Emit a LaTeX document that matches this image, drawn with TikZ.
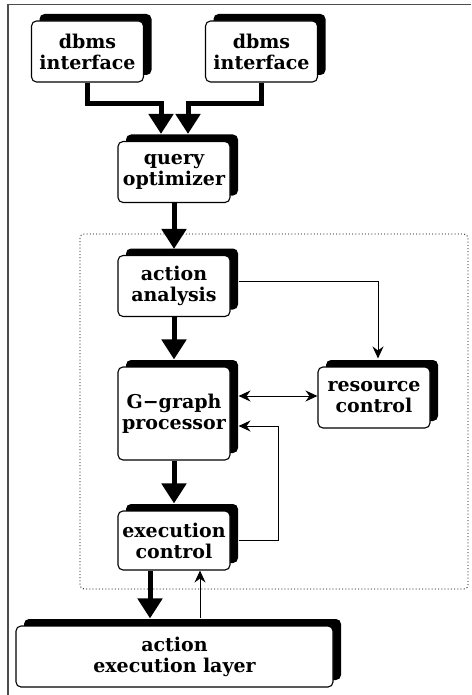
\documentclass[tikz,border=0pt]{standalone}
\usepackage{fontspec}
\setmainfont{DejaVu Serif}
\usepackage{tikz}
\usetikzlibrary{arrows.meta,shadows,calc}

\tikzset{
    module/.style={draw, rectangle, rounded corners=5pt, fill=white, line width=1.1pt,
        text width=106pt, minimum height=61pt, inner sep=3pt, align=center,
        font=\fontsize{19}{21}\selectfont\bfseries,
        drop shadow={shadow xshift=8pt, shadow yshift=7pt, fill=black, opacity=1}},
    bigflow/.style={line width=5pt, -{Triangle[length=20pt,width=24pt]}},
    smallflow/.style={line width=1pt, -{Stealth[length=12pt,width=11pt,inset=4pt]}},
}

\begin{document}
\begin{tikzpicture}[x=1pt,y=-1pt]
        \useasboundingbox (0,0) rectangle (471,695);

        % Frame
        \draw[black!70, line width=1.2pt] (471,4.5) -- (8,4.5) -- (8,695);

        % Engine boundary
        \draw[dash pattern=on 1pt off 2.2pt, line width=0.8pt, rounded corners=4pt] (80,234) rectangle (468,589);

        % Interfaces
        \node[module] (ifa) at (87.5,51.5) {dbms\\interface};
        \node[module] (ifb) at (261.5,51.5) {dbms\\interface};

        % Optimizer
        \node[module] (opt) at (174,172) {query\\optimizer};

        % Engine
        \node[module] (ana) at (174,286) {action\\analysis};
        \node[module, minimum height=93pt] (ggr) at (174,413.5) {G−graph\\processor};
        \node[module] (res) at (374,397.5) {resource\\control};
        \node[module, minimum height=59pt] (exe) at (174,540.5) {execution\\control};

        % Execution layer
        \node[module, text width=311pt] (lay) at (174.5,656.5) {action\\execution layer};

        \draw[bigflow] (ifa.south) -- ++(0,21) -| ($(opt.north)+(-13,-7)$);
        \draw[bigflow] (ifb.south) -- ++(0,21) -| ($(opt.north)+(14,-7)$);
        \draw[bigflow] (opt.south) -- ($(ana.north)+(0,-6)$);
        \draw[bigflow] (ana.south) -- ($(ggr.north)+(0,-7)$);
        \draw[bigflow] (ggr.south) -- ($(exe.north)+(0,-7)$);
        \draw[bigflow] ($(exe.south)+(-24,0)$) -- ($(lay.north)+(-24.5,-7)$);

        \draw[smallflow] ($(ana.east)+(8,-5)$) -| ($(res.north)+(4,-8)$);
        \draw[smallflow, {Stealth[length=12pt,width=11pt,inset=4pt]}-{Stealth[length=12pt,width=11pt,inset=4pt]}]
            ($(ggr.east |- res.west)+(8,-1.5)$) -- ($(res.west)+(0,-1.5)$);
        \draw[smallflow] ($(exe.east)+(8,0)$) -- ++(40,0) |- ($(ggr.east)+(8,12.5)$);
        \draw[smallflow] ($(lay.north)+(25.5,-7)$) -- ($(exe.south)+(26,0)$);
    \end{tikzpicture}
\end{document}
